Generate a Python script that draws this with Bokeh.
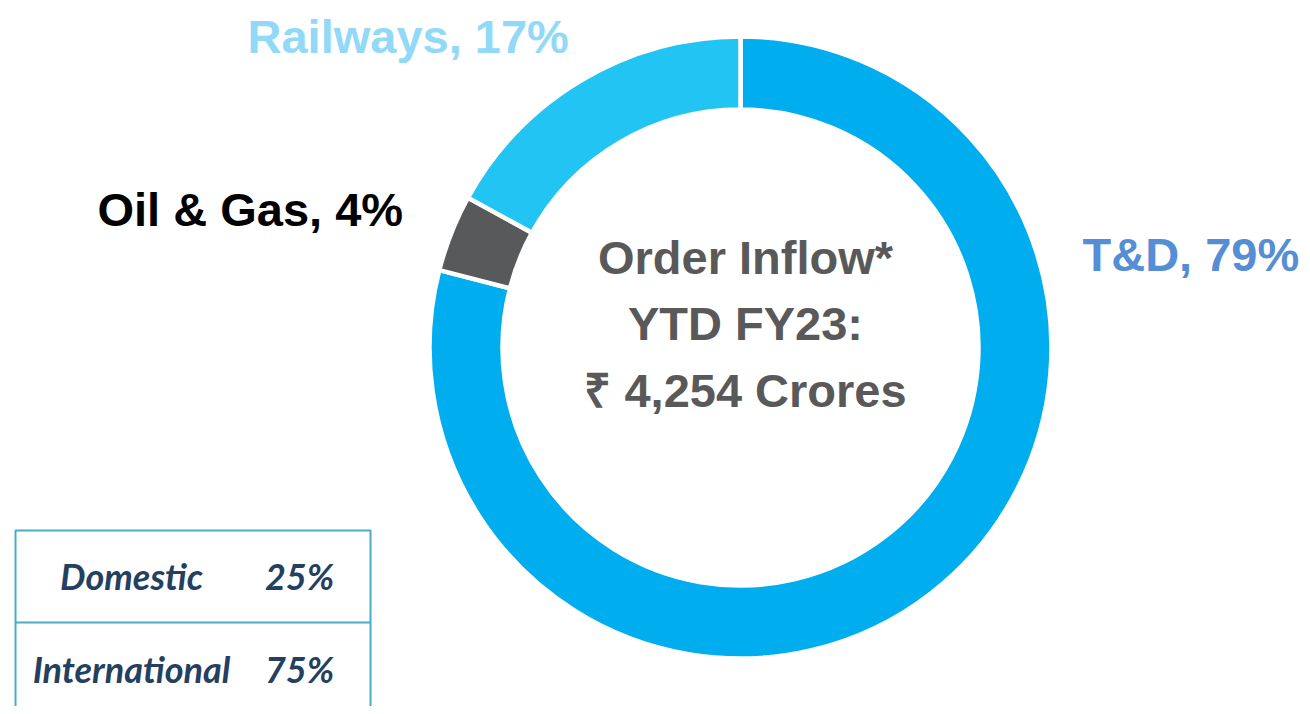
import math
from bokeh.plotting import figure
from bokeh.models import Range1d, ColumnDataSource
from bokeh.core.properties import value
from bokeh.embed import file_html
from bokeh.resources import INLINE

# ---- data ----
categories = ["T&D", "Oil & Gas", "Railways"]
shares = [79, 4, 17]
slice_colors = ["#00AEEF", "#58595B", "#22C4F3"]
label_colors = ["#558ED5", "#000000", "#92D9F8"]
center_lines = ["Order Inflow*", "YTD FY23:", "\u20b9 4,254 Crores"]
table_regions = ["Domestic", "International"]
table_shares = [25, 75]

W, H = 1302, 706
REF_H = 714

def Y(ry):
    return REF_H - ry

p = figure(width=W, height=H, output_backend="svg", toolbar_location=None,
           x_range=Range1d(0, W), y_range=Range1d(REF_H - H, REF_H),
           min_border=0)
p.axis.visible = False
p.grid.visible = False
p.outline_line_color = None
p.background_fill_color = "white"
p.border_fill_color = "white"

# donut: clockwise from top
total = sum(shares)
starts, ends = [], []
cum = 0.0
for s in shares:
    a0 = math.pi / 2 - 2 * math.pi * (cum + s) / total
    a1 = math.pi / 2 - 2 * math.pi * cum / total
    starts.append(a0)
    ends.append(a1)
    cum += s

src = ColumnDataSource(dict(start=starts, end=ends, color=slice_colors))
p.annular_wedge(x=740, y=Y(347), inner_radius=238, outer_radius=311,
                start_angle="start", end_angle="end", fill_color="color",
                line_color="white", line_width=4.5, source=src)

# slice labels
label_pos = {"T&D": (1082, 254), "Oil & Gas": (97, 209), "Railways": (247, 36)}
for c, v, col in zip(categories, shares, label_colors):
    lx, ly = label_pos[c]
    p.text(x=[lx], y=[Y(ly)], text=[f"{c}, {v}%"], text_color=col,
           text_font=value("Liberation Sans"), text_font_style="bold",
           text_font_size="47px", text_align="left", text_baseline="alphabetic")

# center text
center_pos = [(745, 257), (745, 323), (745, 390)]
for t, (cx, cy) in zip(center_lines, center_pos):
    p.text(x=[cx], y=[Y(cy)], text=[t], text_color="#595959",
           text_font=value("Liberation Sans"), text_font_style="bold",
           text_font_size="47px", text_align="center", text_baseline="alphabetic")

# table
border = "#4BACC6"
p.quad(left=[15], right=[370], top=[Y(530)], bottom=[Y(713)],
       fill_color=None, line_color=border, line_width=2)
p.segment(x0=[15], y0=[Y(622)], x1=[370], y1=[Y(622)], line_color=border, line_width=2)
row_base = [575, 668]
for r, s, by in zip(table_regions, table_shares, row_base):
    p.text(x=[131], y=[Y(by)], text=[r], text_color="#243F60",
           text_font=value("Lato"), text_font_style="bold italic",
           text_font_size="36px", text_align="center", text_baseline="alphabetic")
    p.text(x=[299], y=[Y(by)], text=[f"{s}%"], text_color="#243F60",
           text_font=value("Lato"), text_font_style="bold italic",
           text_font_size="36px", text_align="center", text_baseline="alphabetic")

open("out.html", "w").write(file_html(p, INLINE))
